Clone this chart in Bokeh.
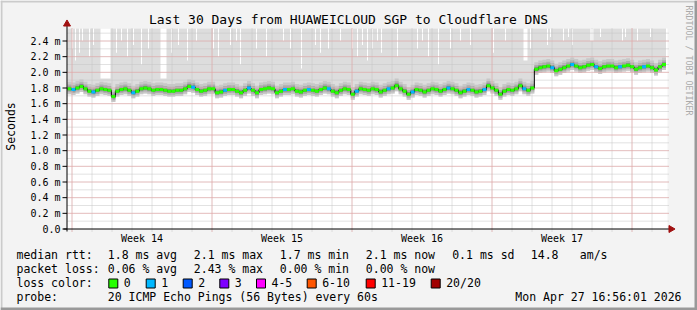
import numpy as np
from bokeh.plotting import figure
from bokeh.models import Range1d
from bokeh.core.properties import value
from bokeh.embed import file_html
from bokeh.resources import INLINE

# ---------------- data ----------------
TITLE = "Last 30 Days from HUAWEICLOUD SGP to Cloudflare DNS"
Y_LABEL = "Seconds"
week_labels = ["Week 14", "Week 15", "Week 16", "Week 17"]
week_start_day = [0.225, 7.225, 14.225, 21.225, 28.225]   # days after chart start
y_ticks = [0.0, 0.2, 0.4, 0.6, 0.8, 1.0, 1.2, 1.4, 1.6, 1.8, 2.0, 2.2, 2.4]
y_tick_labels = ["0.0", "0.2 m", "0.4 m", "0.6 m", "0.8 m", "1.0 m", "1.2 m",
                 "1.4 m", "1.6 m", "1.8 m", "2.0 m", "2.2 m", "2.4 m"]
Y_TOP = 2.56          # ms, top of the chart
DAYS_SHOWN = 30

BIN_DAYS = 0.1995  # one median sample every ~0.2 day
median_ms = [
    1.79, 1.78, 1.80, 1.82, 1.79, 1.76, 1.75, 1.77, 1.79, 1.78,
    1.77, 1.69, 1.76, 1.78, 1.79, 1.77, 1.74, 1.76, 1.79, 1.80,
    1.79, 1.77, 1.78, 1.78, 1.77, 1.76, 1.76, 1.77, 1.77, 1.79,
    1.82, 1.81, 1.78, 1.76, 1.77, 1.79, 1.79, 1.74, 1.75, 1.77,
    1.78, 1.78, 1.76, 1.74, 1.77, 1.80, 1.77, 1.74, 1.78, 1.79,
    1.80, 1.79, 1.74, 1.76, 1.78, 1.78, 1.79, 1.76, 1.75, 1.77,
    1.78, 1.77, 1.76, 1.78, 1.80, 1.79, 1.76, 1.74, 1.77, 1.79,
    1.78, 1.72, 1.76, 1.79, 1.78, 1.77, 1.79, 1.78, 1.75, 1.77,
    1.79, 1.80, 1.83, 1.79, 1.76, 1.72, 1.75, 1.78, 1.77, 1.75,
    1.77, 1.79, 1.78, 1.76, 1.78, 1.80, 1.79, 1.77, 1.74, 1.76,
    1.78, 1.77, 1.75, 1.76, 1.78, 1.83, 1.80, 1.77, 1.72, 1.76,
    1.78, 1.77, 1.79, 1.83, 1.79, 1.77, 1.80, 2.04, 2.06, 2.07,
    2.08, 2.06, 2.02, 2.04, 2.06, 2.08, 2.10, 2.08, 2.06, 2.07,
    2.09, 2.10, 2.07, 2.05, 2.07, 2.08, 2.08, 2.06, 2.07, 2.08,
    2.09, 2.07, 2.04, 2.06, 2.07, 2.08, 2.06, 2.03, 2.07, 2.10,
]
loss_class = [
    0, 1, 0, 0, 0, 0, 1, 0, 0, 0,
    0, 0, 0, 0, 0, 0, 1, 0, 0, 0,
    0, 0, 0, 0, 0, 0, 0, 0, 0, 0,
    0, 1, 0, 0, 0, 0, 0, 0, 0, 1,
    0, 0, 0, 0, 0, 1, 0, 0, 0, 0,
    0, 0, 0, 0, 1, 0, 0, 0, 0, 0,
    1, 0, 0, 0, 0, 1, 0, 0, 0, 0,
    0, 0, 1, 0, 0, 0, 0, 0, 0, 0,
    1, 0, 0, 0, 0, 0, 1, 0, 0, 0,
    0, 0, 0, 0, 0, 1, 0, 0, 0, 0,
    1, 0, 0, 0, 1, 0, 0, 0, 0, 0,
    0, 0, 0, 0, 1, 0, 0, 0, 0, 0,
    0, 1, 0, 0, 0, 0, 1, 0, 0, 0,
    0, 0, 1, 0, 0, 0, 0, 0, 1, 0,
    0, 0, 0, 0, 1, 0, 0, 0, 0, 0,
]
# smoke spread around the median (ms): lower / upper ping offsets, inner to outer
smoke_lo = [-0.012, -0.025, -0.045, -0.07]
smoke_hi = [0.015, 0.03, 0.055, 0.09]
# intervals whose max ping stayed below the chart top (white strips in the smoke)
gap_day = [0.25, 0.40, 0.60, 0.75, 1.10, 1.30, 1.90, 2.45, 2.70, 3.00, 3.30, 3.70, 4.05,
           4.80, 5.20, 5.55, 6.00, 6.45, 7.30, 7.55, 8.15, 8.45, 8.65, 9.45, 9.95, 10.80,
           11.15, 11.70, 12.40, 12.65, 13.05, 13.65, 14.25, 14.50, 14.75, 15.00, 15.25,
           15.50, 15.70, 16.50, 17.50, 17.75, 18.05, 18.55, 19.15, 19.65, 20.15, 21.30,
           21.90, 22.90, 23.15, 24.00, 24.15, 24.80, 25.05, 25.25, 26.22, 26.65, 27.75,
           27.90, 28.50, 29.15]
gap_width = [0.05, 0.05, 0.05, 0.05, 0.05, 0.05, 0.50, 0.05, 0.05, 0.05, 0.05, 0.05, 0.05,
             0.30, 0.05, 0.05, 0.05, 0.05, 0.05, 0.05, 0.05, 0.05, 0.05, 0.05, 0.05, 0.05,
             0.05, 0.05, 0.05, 0.05, 0.05, 0.05, 0.05, 0.05, 0.05, 0.05, 0.05,
             0.05, 0.05, 0.05, 0.05, 0.05, 0.05, 0.05, 0.05, 0.05, 0.05, 0.05,
             0.05, 0.20, 0.05, 0.05, 0.05, 0.05, 0.05, 0.05, 0.15, 0.05, 0.05,
             0.05, 0.05, 0.05]
gap_low = [2.30, 2.15, 2.25, 2.40, 2.20, 2.35, 1.92, 2.25, 2.40, 2.20, 2.35, 2.10, 2.30,
           1.92, 2.25, 2.35, 2.15, 2.40, 2.30, 2.20, 2.35, 2.40, 2.10, 2.30, 2.20, 2.40,
           2.30, 2.05, 2.35, 2.25, 2.30, 2.40, 2.30, 2.20, 2.35, 2.15, 2.30,
           2.40, 2.25, 2.20, 2.30, 2.40, 2.20, 2.10, 2.30, 2.40, 2.35, 2.25,
           2.40, 2.15, 2.30, 2.35, 2.45, 2.40, 2.45, 2.35, 2.40, 2.45, 2.40,
           2.45, 2.40, 2.45]

loss_names = ["0", "1", "2", "3", "4-5", "6-10", "11-19", "20/20"]
loss_colors = ["#26ff00", "#00b8ff", "#0059ff", "#7e00ff", "#ff00ff", "#ff5500", "#ff0000", "#a10000"]

stats_rtt = ["median rtt:", "1.8 ms avg", "2.1 ms max", "1.7 ms min", "2.1 ms now", "0.1 ms sd", "14.8", "am/s"]
stats_loss = ["packet loss:", "0.06 % avg", "2.43 % max", "0.00 % min", "0.00 % now"]
probe_text = ["probe:", "20 ICMP Echo Pings (56 Bytes) every 60s"]
stamp = "Mon Apr 27 16:56:01 2026"
credit = "RRDTOOL / TOBI OETIKER"

# ---------------- layout ----------------
W, H = 697, 310
PX_LEFT, PX_PER_DAY = 67.0, 20.0      # canvas x of day 0, pixels per day
PY_ZERO, PX_PER_MS = 228.5, 78.333    # canvas y of 0 ms, pixels per ms
MONO = "DejaVu Sans Mono"


def cx(px):  # canvas pixel -> data x (days)
    return (px - PX_LEFT) / PX_PER_DAY


def cy(py):  # canvas pixel (from top) -> data y (ms)
    return (PY_ZERO - py) / PX_PER_MS


p = figure(width=W, height=H, output_backend="svg", toolbar_location=None,
           x_range=Range1d(cx(0), cx(W)), y_range=Range1d(cy(H), cy(0)),
           min_border=0, title=None, x_axis_location=None, y_axis_location=None)
p.xgrid.visible = False
p.ygrid.visible = False
p.background_fill_color = "#f3f3f3"
p.border_fill_color = "#f3f3f3"
p.outline_line_color = None

# canvas frame shading
p.quad(left=cx(0), right=cx(W), top=cy(0), bottom=cy(2), fill_color="#cbcbcb", line_color=None)
p.quad(left=cx(0), right=cx(2), top=cy(0), bottom=cy(H), fill_color="#cbcbcb", line_color=None)
p.quad(left=cx(W - 3), right=cx(W), top=cy(0), bottom=cy(H), fill_color="#999999", line_color=None)
p.quad(left=cx(0), right=cx(W), top=cy(H - 3), bottom=cy(H), fill_color="#999999", line_color=None)

# plot canvas
p.quad(left=0, right=DAYS_SHOWN, bottom=0, top=Y_TOP, fill_color="white", line_color=None)

n = len(median_ms)
med = np.array(median_ms)
edges = np.arange(n + 1) * BIN_DAYS
xs_step = np.repeat(edges, 2)[1:-1]


def stepped(v):
    return np.repeat(np.asarray(v), 2)


# outer smoke: up to the max ping (clipped at chart top)
p.varea(x=xs_step, y1=stepped(med + smoke_lo[-1]), y2=stepped(np.full(n, Y_TOP)),
        fill_color="#dddddd")
p.vbar(x=gap_day, width=gap_width, bottom=gap_low, top=Y_TOP,
       fill_color="white", line_color=None)
shades = ["#5a5a5a", "#8a8a8a", "#adadad", "#c8c8c8"]
for k in range(len(smoke_lo) - 1, -1, -1):
    p.varea(x=xs_step, y1=stepped(med + smoke_lo[k]), y2=stepped(med + smoke_hi[k]),
            fill_color=shades[k])

# grid (drawn over the smoke)
days = [week_start_day[0] + d for d in range(DAYS_SHOWN)]
y_minor = [round(0.1 * i, 1) for i in range(1, 26)]
GREY, RED = "#c4c4c4", "#eda0a0"
p.segment(x0=days, x1=days, y0=cy(231), y1=Y_TOP, line_color=GREY, line_dash="1 1")
p.segment(x0=0, x1=cx(668), y0=y_minor, y1=y_minor, line_color=GREY, line_dash="1 1")
p.segment(x0=week_start_day, x1=week_start_day, y0=cy(231), y1=Y_TOP, line_color=RED, line_dash="1 1")
p.segment(x0=0, x1=cx(668), y0=y_ticks[1:], y1=y_ticks[1:], line_color=RED, line_dash="1 1")

# median: black step + coloured loss segments
p.step(x=np.append(edges[:-1], edges[-1]), y=np.append(med, med[-1]), mode="after",
       line_color="black", line_width=1)
cols = [loss_colors[c] for c in loss_class]
p.segment(x0=edges[:-1], x1=edges[1:], y0=med, y1=med, line_color=cols, line_width=3)

# axes
p.segment(x0=cx(62), x1=cx(66.5), y0=y_ticks, y1=y_ticks, line_color="black")
p.segment(x0=[cx(66.5)], x1=[cx(66.5)], y0=[cy(231)], y1=[cy(24)], line_color="black")
p.segment(x0=[cx(63)], x1=[cx(670)], y0=[0], y1=[0], line_color="black")
p.scatter(x=[cx(66.5)], y=[cy(23.5)], marker="triangle", size=7, fill_color="#a01010",
          line_color="#a01010")
p.scatter(x=[cx(670.5)], y=[0], marker="triangle", size=7, angle=-np.pi / 2,
          fill_color="#a01010", line_color="#a01010")

p.text(x=cx(60), y=y_ticks, text=y_tick_labels, text_font=value(MONO), text_font_size="10px",
       text_align="right", text_baseline="middle", text_color="black")
week_mid = [w + 3.5 for w in week_start_day[:4]]
p.text(x=week_mid, y=cy(238), text=week_labels, text_font=value(MONO), text_font_size="10px",
       text_align="center", text_baseline="middle", text_color="black")


def lab(px, py, text, size="11.5px", align="left", color="black", angle=0.0):
    p.text(x=[cx(px)], y=[cy(py)], text=[text], text_font=value(MONO), text_font_size=size,
           text_align=align, text_baseline="middle", text_color=color, angle=angle)


lab(348, 19, TITLE, size="13px", align="center")
lab(10, 126, Y_LABEL, size="11.5px", align="center", angle=np.pi / 2)
lab(688, 5, credit, size="8.3px", align="left", color="#aaaaaa", angle=-np.pi / 2)

cols_x = [16, 107.3, 193.3, 279.3, 365.3, 451.7, 530.3, 579.3]
for t, x in zip(stats_rtt, cols_x):
    lab(x, 254.3, t)
for t, x in zip(stats_loss, cols_x):
    lab(x, 268.3, t)
lab(16, 282.3, "loss color:")
box_x = [108.3, 145.7, 182.7, 219.3, 256, 306.7, 365.7, 430.7]
p.quad(left=[cx(b) for b in box_x], right=[cx(b + 9) for b in box_x],
       bottom=cy(287.5), top=cy(278.5), fill_color=loss_colors, line_color="black")
for name, bx in zip(loss_names, box_x):
    lab(bx + 15, 282.3, name)
lab(16, 296, probe_text[0])
lab(107.3, 296, probe_text[1])
lab(681, 296, stamp, align="right")

open("out.html", "w").write(file_html(p, INLINE))
